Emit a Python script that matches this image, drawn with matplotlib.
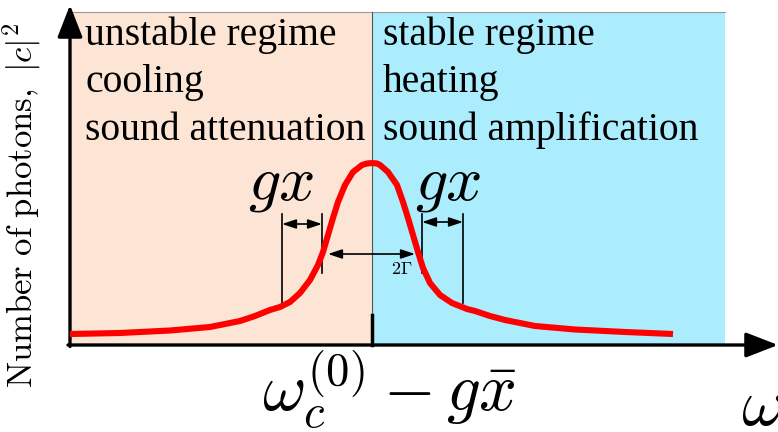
import matplotlib
matplotlib.use("Agg")
import matplotlib.pyplot as plt
from matplotlib.patches import Rectangle

plt.rcParams['mathtext.fontset'] = 'cm'
plt.rcParams['font.family'] = ['Liberation Serif', 'DejaVu Serif']

# detuning (arbitrary units, resonance at 0) and photon number (arb. units)
omega = [-3.02, -2.52, -2.02, -1.62, -1.32, -1.17, -1.02, -0.92, -0.82, -0.72,
         -0.62, -0.54, -0.49, -0.44, -0.39, -0.34, -0.27, -0.19, -0.10, -0.05,
         0.00, 0.05, 0.08, 0.16, 0.25, 0.31, 0.36, 0.41, 0.46, 0.51,
         0.58, 0.68, 0.80, 0.95, 1.03, 1.18, 1.33, 1.63, 2.03, 2.53, 3.01]
photons = [0.11, 0.12, 0.145, 0.18, 0.24, 0.29, 0.35, 0.38, 0.43, 0.52,
           0.65, 0.80, 0.93, 1.10, 1.27, 1.43, 1.60, 1.73, 1.80, 1.815,
           1.82, 1.815, 1.80, 1.73, 1.60, 1.43, 1.27, 1.10, 0.93, 0.77,
           0.62, 0.50, 0.42, 0.36, 0.34, 0.29, 0.25, 0.19, 0.155, 0.13, 0.11]

left_labels = ["unstable regime", "cooling", "sound attenuation"]
right_labels = ["stable regime", "heating", "sound amplification"]

fig = plt.figure(figsize=(7.78, 4.32), dpi=100)
ax = fig.add_axes([0, 0, 1, 1])
ax.set_xlim(-3.72, 4.06)
ax.set_ylim(-0.87, 3.45)
ax.axis('off')

# shaded regions
ax.add_patch(Rectangle((-3.02, 0), 3.02, 3.33, facecolor='#FDE5D6', edgecolor='none', zorder=0))
ax.add_patch(Rectangle((0, 0), 3.53, 3.33, facecolor='#ABECFD', edgecolor='none', zorder=0))
ax.plot([-3.02, 3.53], [3.33, 3.33], color='#9a9a9a', lw=0.8, zorder=1)
ax.plot([0, 0], [0, 3.33], color='#555555', lw=0.8, zorder=1)
ax.plot([0, 0], [0, 0.30], color='k', lw=2.5, zorder=3)

# axes arrows
ax.annotate('', xy=(4.06, 0.0), xytext=(-3.04, 0.0),
            arrowprops=dict(arrowstyle='-|>,head_length=0.9,head_width=0.35', lw=2.4, color='k',
                            mutation_scale=22, shrinkA=0, shrinkB=0), zorder=4)
ax.annotate('', xy=(-3.02, 3.40), xytext=(-3.02, -0.015),
            arrowprops=dict(arrowstyle='-|>,head_length=0.9,head_width=0.35', lw=2.4, color='k',
                            mutation_scale=22, shrinkA=0, shrinkB=0), zorder=4)

# curve
ax.plot(omega, photons, color='#FF0000', lw=4.4, solid_capstyle='butt',
        solid_joinstyle='round', zorder=5)

# gx markers
for xa, xb, ya, yb, yarr, xlab in [(-0.90, -0.50, 0.42, 0.72, 1.21, -0.91),
                                   (0.50, 0.91, 0.72, 0.42, 1.23, 0.76)]:
    ax.plot([xa, xa], [ya, 1.31], color='k', lw=1.2, zorder=4)
    ax.plot([xb, xb], [yb, 1.31], color='k', lw=1.2, zorder=4)
    ax.annotate('', xy=(xb, yarr), xytext=(xa, yarr),
                arrowprops=dict(arrowstyle='<|-|>,head_length=0.6,head_width=0.2', lw=1.2,
                                color='k', mutation_scale=14, shrinkA=0, shrinkB=0), zorder=4)
    ax.text(xlab, 1.60, r'$gx$', fontsize=46, ha='center', va='center', zorder=6)

# 2 Gamma arrow
ax.annotate('', xy=(0.43, 0.91), xytext=(-0.44, 0.91),
            arrowprops=dict(arrowstyle='<|-|>,head_length=0.6,head_width=0.2', lw=1.2,
                            color='k', mutation_scale=14, shrinkA=0, shrinkB=0), zorder=6)
ax.text(0.30, 0.75, r'$2\Gamma$', fontsize=13, ha='center', va='center', zorder=6)

# regime texts
for i, (l, r) in enumerate(zip(left_labels, right_labels)):
    y = 3.10 - i * 0.475
    ax.text(-2.87, y, l, fontsize=28.5, ha='left', va='center', zorder=6)
    ax.text(0.11, y, r, fontsize=28.5, ha='left', va='center', zorder=6)

# axis labels
ax.text(-3.50, 1.40, r'$\mathrm{Number\ of\ photons,}\ |c|^2$', fontsize=25, rotation=90,
        ha='center', va='center')
ax.text(0.17, -0.445, r'$\omega_c^{(0)} - g\bar{x}$', fontsize=48, ha='center', va='center')
ax.text(3.69, -0.64, r'$\omega$', fontsize=48, ha='left', va='center')

fig.savefig('out.png', dpi=100)
